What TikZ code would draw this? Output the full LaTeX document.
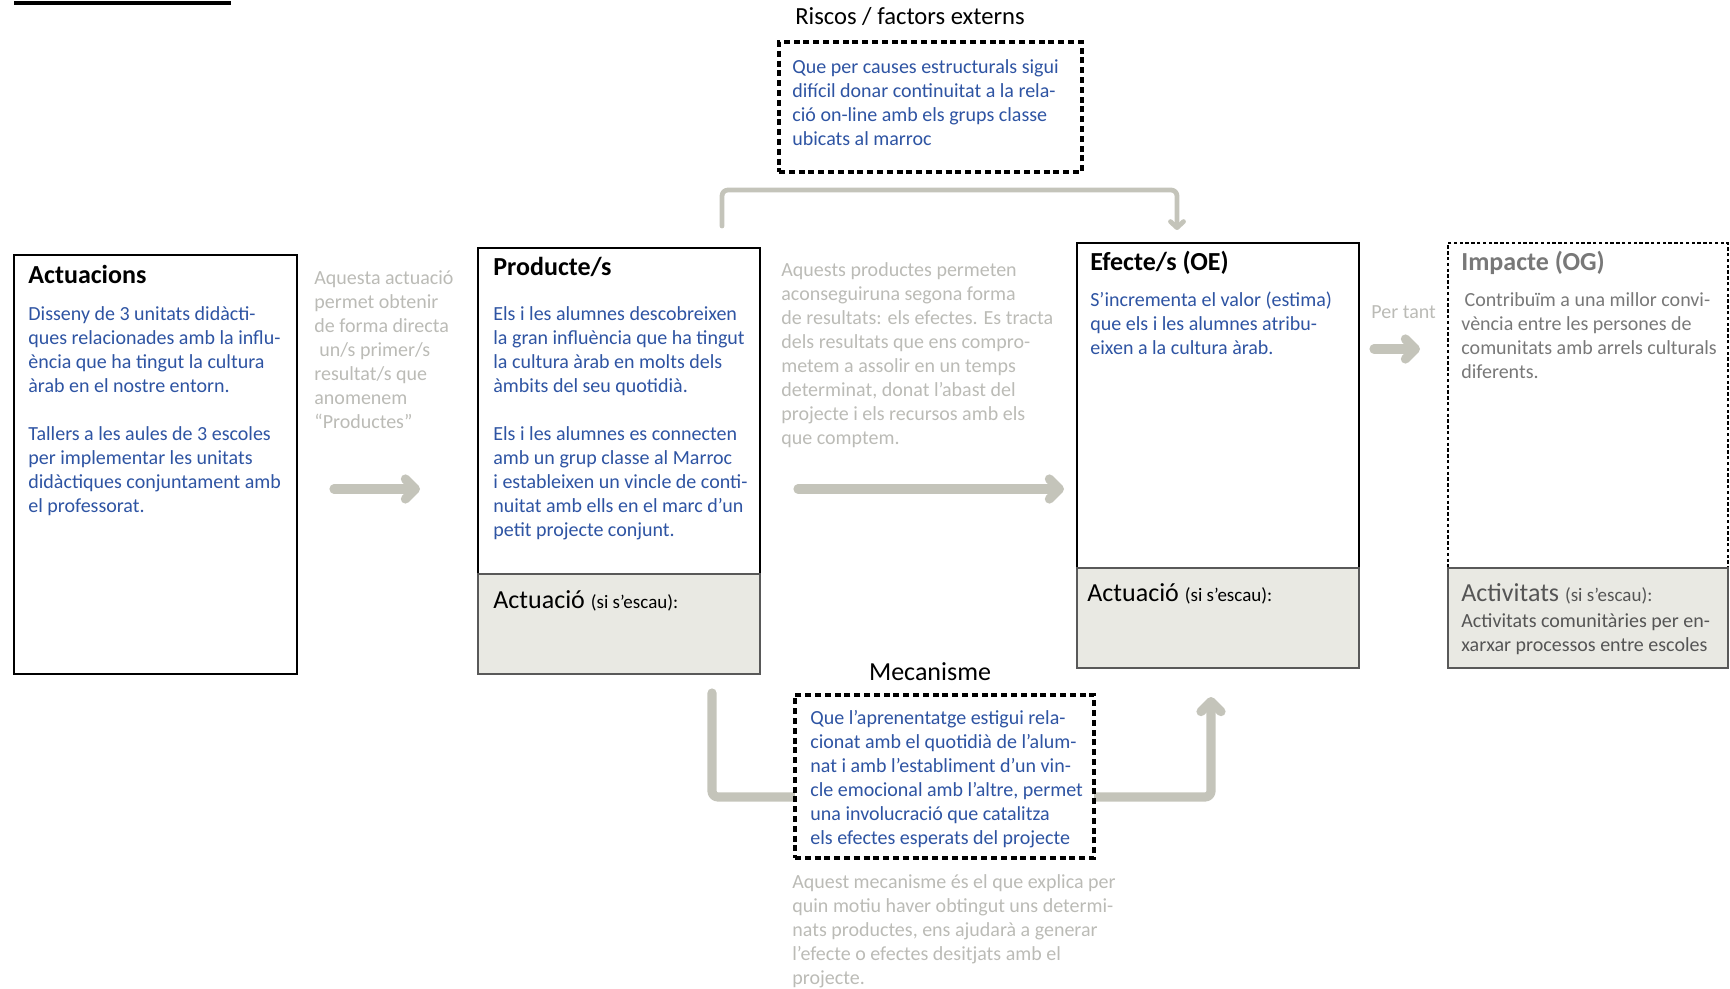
\documentclass[tikz,border=0pt]{standalone}
\usepackage{fontspec}
\setmainfont{Carlito}
\usepackage{xcolor}
\usepackage{tikz}
\usetikzlibrary{arrows.meta,positioning,backgrounds}

\definecolor{txtblue}{RGB}{46,84,163}
\definecolor{txtgray}{RGB}{187,187,182}
\definecolor{impgray}{RGB}{120,120,120}
\definecolor{actgray}{RGB}{85,85,85}
\definecolor{flowgray}{RGB}{196,196,186}
\definecolor{actfill}{RGB}{233,233,227}

\newcommand\bodyf{\fontsize{10}{12}\selectfont}
\newcommand\headf{\fontsize{13}{15}\selectfont}
\newcommand\smallf{\fontsize{9.5}{11}\selectfont}

\begin{document}
\begin{tikzpicture}[x=0.5pt, y=-0.5pt,
  bOut/.style={draw, line width=1.2pt, fill=white, inner sep=0pt, outer sep=0pt, anchor=north west},
  bAct/.style={bOut, draw=black!65, fill=actfill, line width=1.1pt},
  bRisk/.style={bOut, line width=1.6pt, dash pattern=on 3pt off 1.9pt},
  bImp/.style={bOut, line width=1.1pt, dash pattern=on 1.7pt off 1.2pt},
  tBlue/.style={text=txtblue, font=\bodyf, align=left, anchor=north west, inner sep=0pt},
  tGray/.style={tBlue, text=txtgray},
  tHead/.style={font=\headf\bfseries, anchor=base west, inner sep=0pt},
  flow/.style={draw=flowgray, line width=4.6pt, line cap=round, line join=round,
    rounded corners=3pt, -{Straight Barb[length=5pt, width=10pt, round]}},
  flowthin/.style={flow, line width=2.4pt, -{Straight Barb[length=3pt, width=6.5pt, round]}}]
  \useasboundingbox (0,0) rectangle (1730,989);

  % title rule, cut off at the top
  \fill (14,1) rectangle (231,5.4);

  % boxes
  \node[bOut, minimum width=141.5pt, minimum height=209.5pt] (act) at (14,255) {};
  \node[bOut, minimum width=141pt, minimum height=163pt] (prod) at (478,248) {};
  \node[bAct, minimum width=141pt, minimum height=50pt] (prodact) at (478,574) {};
  \node[bOut, minimum width=141pt, minimum height=162.5pt] (eff) at (1077,243) {};
  \node[bAct, minimum width=141pt, minimum height=50pt] (effact) at (1077,568) {};
  \node[bImp, minimum width=140pt, minimum height=162.5pt] (imp) at (1448,243) {};
  \node[bAct, minimum width=140pt, minimum height=50pt] (impact) at (1448,568) {};
  \node[bRisk, minimum width=151.5pt, minimum height=65pt] (risk) at (779,42) {};
  \node[bRisk, minimum width=149.5pt, minimum height=81.5pt] (mech) at (795,695) {};

  % headings
  \node[tHead] (acth) at (28,284) {Actuacions};
  \node[tHead] (prodh) at (493,276) {Producte/s};
  \node[tHead] (effh) at (1090,271) {Efecte/s (OE)};
  \node[tHead, text=impgray] (imph) at (1461,271) {Impacte (OG)};
  \node[tHead, font=\headf] (prodah) at (493,608) {Actuació {\smallf (si s’escau):}};
  \node[tHead, font=\headf] (effah) at (1087,602) {Actuació {\smallf (si s’escau):}};
  \node[tHead, font=\headf, text=actgray] (impah) at (1461,602) {Activitats {\smallf (si s’escau):}};
  \node[font=\fontsize{12.3}{14}\selectfont, anchor=base, inner sep=0pt] (riskh) at (910,25) {Riscos / factors externs};
  \node[font=\headf, anchor=base, inner sep=0pt] (mechh) at (930,680) {Mecanisme};

  % box texts
  \node[tBlue] (actt) at (28,303) {\strut Disseny de 3 unitats didàcti-\\ques relacionades amb la influ-\\ència que ha tingut la cultura\\àrab en el nostre entorn.\\[12pt]
    Tallers a les aules de 3 escoles\\per implementar les unitats\\didàctiques conjuntament amb\\el professorat.};
  \node[tBlue] (prodt) at (493,303) {\strut Els i les alumnes descobreixen\\la gran influència que ha tingut\\la cultura àrab en molts dels\\àmbits del seu quotidià.\\[12pt]
    Els i les alumnes es connecten\\amb un grup classe al Marroc\\i estableixen un vincle de conti-\\nuitat amb ells en el marc d’un\\petit projecte conjunt.};
  \node[tBlue] (efft) at (1090,289) {\strut S’incrementa el valor (estima)\\que els i les alumnes atribu-\\eixen a la cultura àrab.};
  \node[tBlue, text=impgray] (impt) at (1461,289) {\strut\hspace*{1.6pt}Contribuïm a una millor convi-\\vència entre les persones de\\comunitats amb arrels culturals\\diferents.};
  \node[tBlue, text=actgray] (impat) at (1461,610) {\strut Activitats comunitàries per en-\\xarxar processos entre escoles};
  \node[tBlue] (riskt) at (792,56) {\strut Que per causes estructurals sigui\\difícil donar continuitat a la rela-\\ció on-line amb els grups classe\\ubicats al marroc};
  \node[tBlue] (mecht) at (810,707) {\strut Que l’aprenentatge estigui rela-\\cionat amb el quotidià de l’alum-\\nat i amb l’establiment d’un vin-\\cle emocional amb l’altre, permet\\una involucració que catalitza\\els efectes esperats del projecte};

  % grey notes
  \node[tGray] (note1) at (314,267) {\strut Aquesta actuació\\permet obtenir\\de forma directa\\\hspace*{2.5pt}un/s primer/s\\resultat/s que\\anomenem\\“Productes”};
  \node[tGray] (note2) at (781,259) {\strut Aquests productes permeten\\aconseguiruna segona forma\\de resultats: els efectes. Es tracta\\dels resultats que ens compro-\\metem a assolir en un temps\\determinat, donat l’abast del\\projecte i els recursos amb els\\que comptem.};
  \node[tGray] (note3) at (792,871) {\strut Aquest mecanisme és el que explica per\\quin motiu haver obtingut uns determi-\\nats productes, ens ajudarà a generar\\l’efecte o efectes desitjats amb el\\projecte.};
  \node[tGray, anchor=base west] (note4) at (1371,319) {Per tant};

  % connectors
  \coordinate (a1s) at (334,489); \coordinate (a1e) at (420,489);
  \coordinate (a2s) at (798,489); \coordinate (a2e) at (1064,489);
  \coordinate (a3s) at (1374,349); \coordinate (a3e) at (1420,349);
  \coordinate (topL) at (722,226); \coordinate (topR) at (1177,230); \coordinate (topY) at (0,190);
  \coordinate (mL) at (712,693); \coordinate (mR) at (1211,697); \coordinate (mY) at (0,797);
  \draw[flow] (a1s) -- (a1e);
  \draw[flow] (a2s) -- (a2e);
  \draw[flow] (a3s) -- (a3e);
  \draw[flowthin] (topL) -- (topL |- topY) -- (topR |- topY) -- (topR);
  \begin{scope}[on background layer]
    \draw[flow, -] (mL) -- (mL |- mY) -- (mech.west |- mY);
    \draw[flow] (mech.east |- mY) -- (mR |- mY) -- (mR);
  \end{scope}
\end{tikzpicture}
\end{document}
